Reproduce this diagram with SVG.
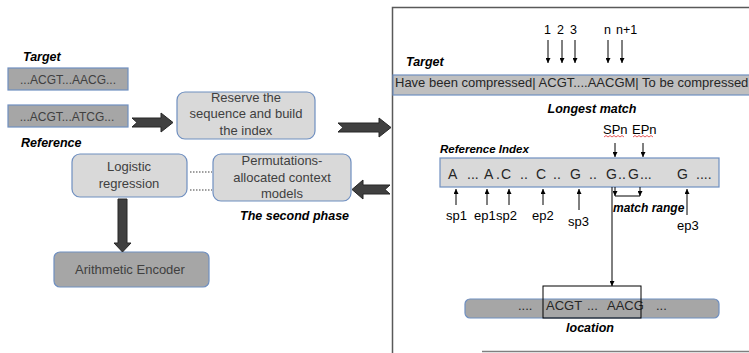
<svg xmlns="http://www.w3.org/2000/svg" width="749" height="353" viewBox="0 0 749 353">
<style>
.t{font-family:"Liberation Sans",Arial,sans-serif;fill:#000}
.bt{font-family:"Liberation Sans",Arial,sans-serif;fill:#404040}
.lbl{font-family:"Liberation Sans",Arial,sans-serif;font-weight:bold;font-style:italic;fill:#000}
.boxL{fill:#d9d9d9;stroke:#6f8fc0;stroke-width:1.2}
.boxD{fill:#a6a6a6;stroke:#6f8fc0;stroke-width:1.2}
.fat{fill:#404040;stroke:#262626;stroke-width:1}
.thin{stroke:#000;stroke-width:1;fill:none}
</style>
<defs>
<marker id="ah" viewBox="0 0 10 10" refX="10" refY="5" markerWidth="5" markerHeight="5" orient="auto">
<path d="M0,0 L10,5 L0,10 Z" fill="#000"/>
</marker>
</defs>
<rect width="749" height="353" fill="#fff"/>

<!-- right panel frame -->
<path d="M749,7.5 H392.5 V353" fill="none" stroke="#595959" stroke-width="1.5"/>
<path d="M482,351.5 H749" fill="none" stroke="#7f7f7f" stroke-width="1.5"/>

<!-- labels -->
<text class="lbl" x="23" y="61" font-size="12.5">Target</text>
<text class="lbl" x="21" y="147" font-size="12.5">Reference</text>
<text class="lbl" x="240" y="220" font-size="12.5">The second phase</text>
<text class="lbl" x="406" y="66" font-size="12.5">Target</text>
<text class="lbl" x="592" y="113" font-size="12.5" text-anchor="middle">Longest match</text>
<text class="lbl" x="440" y="153" font-size="11.5">Reference Index</text>
<text class="lbl" x="613" y="212" font-size="12">match range</text>
<text class="lbl" x="590" y="332" font-size="12.5" text-anchor="middle">location</text>

<!-- left nodes -->
<g id="target-seq">
<rect class="boxD" x="8" y="68" width="120" height="22"/>
<text class="bt" x="68" y="84" font-size="12" text-anchor="middle">...ACGT...AACG...</text>
</g>
<g id="reference-seq">
<rect class="boxD" x="8" y="105" width="120" height="22"/>
<text class="bt" x="67" y="121" font-size="12" text-anchor="middle">...ACGT...ATCG...</text>
</g>
<g id="reserve">
<rect class="boxL" x="177" y="92" width="138" height="47" rx="8"/>
<text class="bt" x="246" y="102" font-size="13" text-anchor="middle">Reserve the</text>
<text class="bt" x="246" y="118" font-size="13" text-anchor="middle">sequence and build</text>
<text class="bt" x="246" y="135" font-size="13" text-anchor="middle">the index</text>
</g>
<g id="logistic">
<rect class="boxL" x="72" y="154" width="115" height="43" rx="8"/>
<text class="bt" x="129" y="171" font-size="13" text-anchor="middle">Logistic</text>
<text class="bt" x="129" y="188" font-size="13" text-anchor="middle">regression</text>
</g>
<g id="permutations">
<rect class="boxL" x="213" y="154" width="138" height="47" rx="8"/>
<text class="bt" x="282" y="165" font-size="13" text-anchor="middle">Permutations-</text>
<text class="bt" x="282" y="182" font-size="13" text-anchor="middle">allocated context</text>
<text class="bt" x="282" y="198" font-size="13" text-anchor="middle">models</text>
</g>
<g id="arithmetic">
<rect class="boxD" x="54" y="252" width="155" height="35" rx="6"/>
<text class="bt" x="130" y="274" font-size="13" text-anchor="middle">Arithmetic Encoder</text>
</g>

<!-- right nodes -->
<g id="target-bar">
<rect x="393" y="75" width="370" height="20" fill="#bfbfbf" stroke="#6f8fc0" stroke-width="1.2"/>
<text class="bt" x="395" y="86.5" font-size="13" fill="#262626" style="fill:#262626">Have been compressed| ACGT....AACGM| To be compressed</text>
</g>
<g id="positions">
<text class="t" font-size="12.5" y="34"><tspan x="544">1</tspan><tspan x="557">2</tspan><tspan x="570">3</tspan><tspan x="604">n</tspan><tspan x="616">n+1</tspan></text>
</g>
<g id="reference-index">
<rect class="boxL" x="440" y="158" width="279" height="29"/>
<text class="bt" font-size="14" y="179" style="fill:#262626"><tspan x="448">A</tspan><tspan x="467">...</tspan><tspan x="484">A</tspan><tspan x="496">.</tspan><tspan x="501">C</tspan><tspan x="520">..</tspan><tspan x="536">C</tspan><tspan x="553">..</tspan><tspan x="570">G</tspan><tspan x="589">..</tspan><tspan x="606">G</tspan><tspan x="618">..</tspan><tspan x="628">G</tspan><tspan x="640">...</tspan><tspan x="677">G</tspan><tspan x="696">....</tspan></text>
</g>
<g id="pointers">
<text class="t" font-size="13" y="134"><tspan x="603">SPn</tspan><tspan x="632">EPn</tspan></text>
<path d="M604,137 l2,-1.5 l2,1.5 l2,-1.5 l2,1.5 l2,-1.5 l2,1.5 l2,-1.5 l2,1.5 l2,-1.5 l2,1.5 M633,137 l2,-1.5 l2,1.5 l2,-1.5 l2,1.5 l2,-1.5 l2,1.5 l2,-1.5 l2,1.5 l2,-1.5 l2,1.5" fill="none" stroke="#e03030" stroke-width="0.8"/>
<text class="t" font-size="13" y="220"><tspan x="446">sp1</tspan><tspan x="474">ep1</tspan><tspan x="496">sp2</tspan><tspan x="532">ep2</tspan></text>
<text class="t" font-size="13" x="568" y="226">sp3</text>
<text class="t" font-size="13" x="677" y="230">ep3</text>
</g>
<g id="location-bar">
<rect class="boxD" x="465" y="299" width="254" height="19" rx="5"/>
<text class="bt" font-size="13" y="309.5" style="fill:#262626"><tspan x="518">....</tspan><tspan x="546">ACGT</tspan><tspan x="587">...</tspan><tspan x="607">AACG</tspan><tspan x="656">...</tspan></text>
<rect x="543" y="286" width="98" height="32" fill="none" stroke="#000" stroke-width="1"/>
</g>

<!-- connectors -->
<g id="connectors">
<path class="fat" d="M132,118 H161 V113 L173,122.5 L161,132 V127 H132 L137,122.5 Z"/>
<path class="fat" d="M338,123 H379 V118 L391,127.5 L379,137 V132 H338 L343,127.5 Z"/>
<path class="fat" d="M352,189.5 L363,180 V185 H390 L385,189.5 L390,194 H363 V199 Z"/>
<path class="fat" d="M118,199 H127 V243 H131 L122.5,252 L114,243 H118 Z"/>
<path d="M190,172 H212 M190,190 H212" stroke="#404040" stroke-width="1.2" stroke-dasharray="1.5,1.5" fill="none"/>
<path class="thin" marker-end="url(#ah)" d="M548,40 V63"/>
<path class="thin" marker-end="url(#ah)" d="M562,40 V63"/>
<path class="thin" marker-end="url(#ah)" d="M575,40 V63"/>
<path class="thin" marker-end="url(#ah)" d="M608,40 V63"/>
<path class="thin" marker-end="url(#ah)" d="M622,40 V63"/>
<path class="thin" marker-end="url(#ah)" d="M615,143 V157"/>
<path class="thin" marker-end="url(#ah)" d="M643,143 V157"/>
<path class="thin" marker-end="url(#ah)" d="M456,205 V189"/>
<path class="thin" marker-end="url(#ah)" d="M487,205 V189"/>
<path class="thin" marker-end="url(#ah)" d="M509,205 V189"/>
<path class="thin" marker-end="url(#ah)" d="M543,205 V189"/>
<path class="thin" marker-end="url(#ah)" d="M579,210 V189"/>
<path class="thin" marker-end="url(#ah)" d="M687,215 V189"/>
<path class="thin" marker-end="url(#ah)" d="M615,187 V196"/>
<path class="thin" marker-end="url(#ah)" d="M640,187 V196"/>
<path class="thin" d="M615,196 H640"/>
<path class="thin" marker-end="url(#ah)" d="M612,187 V286"/>
</g>
</svg>
